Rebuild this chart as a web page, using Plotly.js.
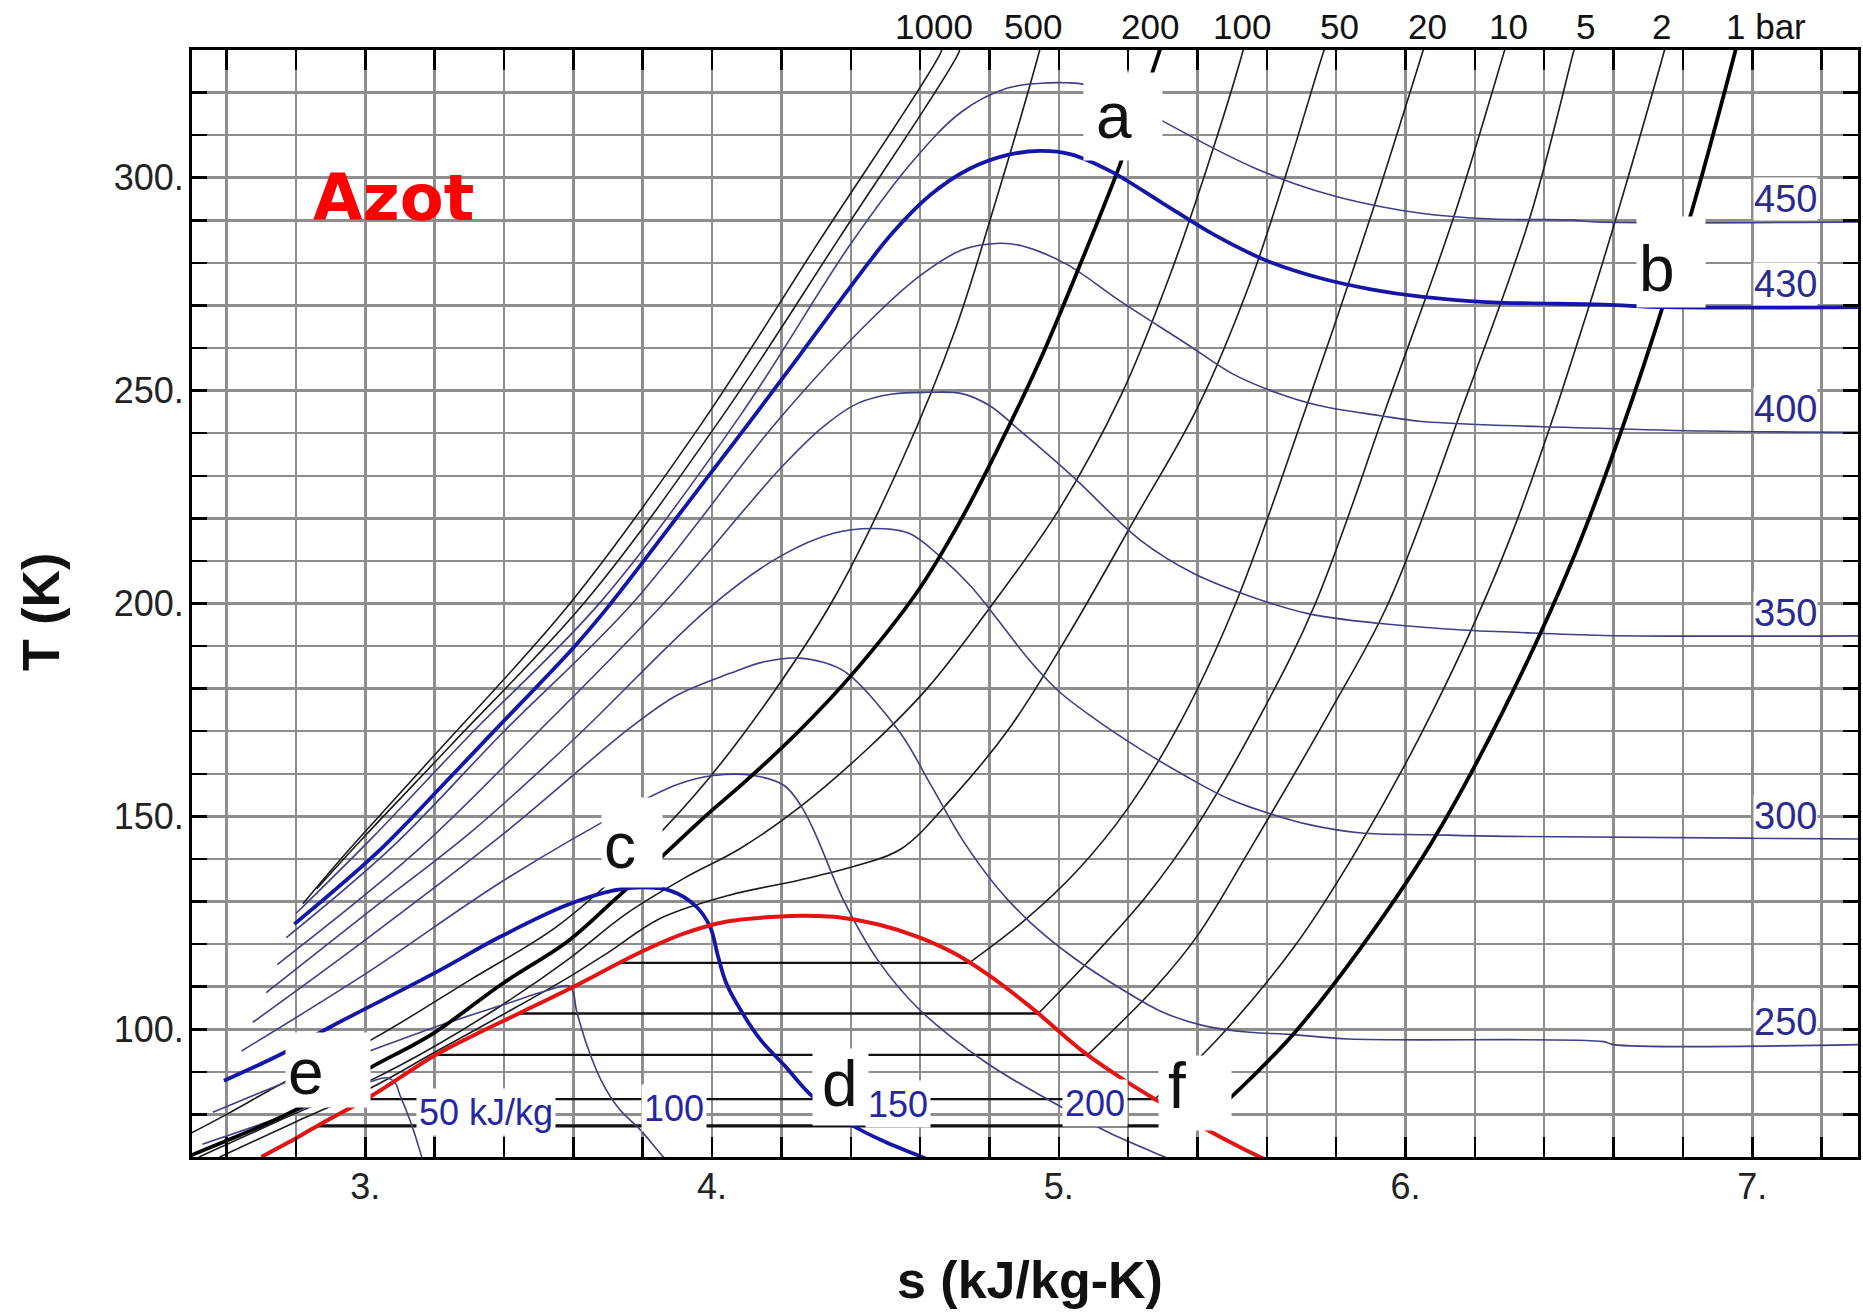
<!DOCTYPE html>
<html><head><meta charset="utf-8">
<script src="https://cdn.plot.ly/plotly-3.0.1.min.js"></script>
<style>html,body{margin:0;padding:0;background:#fff}#chart{width:1863px;height:1312px}</style>
</head><body><div id="chart"></div>
<script>
// ---------------- DATA (s in kJ/kg-K, T in K) ----------------
const satDome = [[2.70,70.0],[2.78,73.5],[2.861,77.3],[3.015,84.2],[3.195,93.6],[3.32,98.9],[3.45,104.0],[3.586,109.4],[3.70,114.2],[3.786,117.8],[3.92,122.5],[4.043,125.3],[4.197,126.5],[4.30,126.6],[4.365,126.3],[4.48,124.6],[4.597,121.6],[4.70,117.8],[4.80,112.6],[4.919,105.2],[5.074,94.5],[5.19,88.0],[5.283,83.3],[5.408,77.3],[5.53,72.0],[5.62,68.5]];

// two-phase plateaus (1, 2, 5, 10, 20 bar)
const plateauT      = [77.3, 83.6, 94.0, 103.7, 115.6];
const plateauLeftS  = [2.861, 3.00, 3.205, 3.44, 3.735];
const plateauRightS = [5.408, 5.277, 5.083, 4.941, 4.742];

// isobars
const p1Vapor  = [[5.408,77.3],[5.55,88.2],[5.68,99.2],[5.87,119.0],[6.075,143.8],[6.28,174.5],[6.481,210.1],[6.65,247.0],[6.82,290.6],[6.951,329.7],[6.955,331]];
const p2Vapor  = [[5.277,83.6],[5.45,97.0],[5.68,119.5],[5.86,142.2],[6.08,175],[6.30,215],[6.54,272.6],[6.746,329.7],[6.75,331]];
const p5Vapor  = [[5.083,94.0],[5.28,110],[5.40,122],[5.551,142.2],[5.785,175],[5.95,200],[6.171,247.6],[6.36,291],[6.485,329.7],[6.49,331]];
const p10Vapor = [[4.941,103.7],[5.08,115.5],[5.25,131],[5.40,148],[5.59,175],[5.74,200],[5.951,247.6],[6.14,291],[6.285,329.7],[6.29,331]];
const p20Vapor = [[4.742,115.6],[4.90,125.5],[5.05,137],[5.20,152],[5.35,172],[5.51,200],[5.72,247.6],[5.90,291],[6.05,329.7],[6.055,331]];
const p50  = [[2.58,70],[2.80,78.3],[3.015,86.2],[3.20,94.6],[3.40,103.6],[3.586,112.2],[3.70,118],[3.85,126],[4.05,131.5],[4.25,135],[4.42,138.5],[4.546,142.4],[4.70,155],[4.86,171],[5.03,193],[5.22,220],[5.40,246],[5.55,275],[5.66,302],[5.764,329.7],[5.77,331]];
const p100 = [[2.52,70],[2.75,78.5],[3.015,88],[3.20,96],[3.40,106],[3.586,116.5],[3.75,127],[3.92,135.5],[4.08,142.4],[4.25,152],[4.45,166],[4.62,180],[4.81,200],[5.00,222],[5.18,249],[5.32,277],[5.43,303],[5.531,329.7],[5.535,331]];
const p200 = [[2.47,69.5],[2.611,74.2],[2.765,79.7],[2.89,85],[3.015,91],[3.195,99],[3.395,110.7],[3.586,120.8],[3.72,130.5],[3.852,140.3],[3.98,150],[4.10,158.5],[4.25,170],[4.40,183],[4.594,203],[4.72,220],[4.828,237],[4.945,257],[5.061,279.5],[5.177,303.2],[5.29,329.7],[5.295,331]];
const p500 = [[2.40,71.5],[2.60,80],[2.765,87.5],[3.014,97.4],[3.30,111.5],[3.55,124],[3.75,138],[3.95,155],[4.15,176],[4.35,201],[4.55,234],[4.70,264],[4.82,295],[4.944,329.7],[4.948,331]];
const pHighA = [[2.82,129.5],[2.94,141],[3.195,164],[3.59,200],[3.976,243],[4.30,284],[4.661,329.7],[4.663,331]];
const pHighB = [[2.86,133],[3.00,145.5],[3.25,167],[3.64,201],[4.03,244],[4.36,285],[4.713,329.7],[4.715,331]];

// isenthalps (kJ/kg)
const h450 = [[2.80,127.2],[3.02,145],[3.30,169],[3.68,200.5],[4.08,244],[4.40,284.5],[4.58,304],[4.72,315.5],[4.85,321],[4.95,322.2],[5.022,322.3],[5.074,321.9],[5.18,318.3],[5.30,313.3],[5.43,307.6],[5.556,302.6],[5.68,298.6],[5.80,295.6],[5.93,293.2],[6.05,291.6],[6.18,290.6],[6.30,290.2],[6.47,290.1],[6.55,289.6],[7.31,289.6]];
const h430 = [[2.795,124.7],[3.043,142.2],[3.233,158.2],[3.365,169.5],[3.602,189.8],[3.70,199.2],[3.987,229.7],[4.112,243],[4.25,258],[4.40,274.5],[4.52,287],[4.63,296],[4.74,302],[4.85,305.3],[4.945,306.3],[5.035,305.5],[5.15,301.5],[5.30,294],[5.45,286.5],[5.60,280.5],[5.75,276.5],[5.90,273.8],[6.05,272],[6.233,270.8],[6.571,270.2],[6.75,269.6],[7.31,269.6]];
const h400 = [[2.772,121.5],[3.08,143],[3.40,170],[3.77,200],[4.19,243],[4.45,266],[4.60,277],[4.72,283],[4.83,284.6],[4.893,284],[5.022,279.7],[5.177,271],[5.37,260.9],[5.50,254],[5.628,249.5],[5.75,246.5],[5.928,244.1],[6.04,242.8],[6.289,241.8],[6.458,241.4],[6.865,240.5],[7.31,240.2]];
const h350 = [[2.746,115.2],[3.15,142],[3.50,170],[3.86,200],[4.20,232],[4.32,241.5],[4.42,247],[4.52,249.2],[4.623,249.6],[4.72,249.3],[4.80,246.5],[4.888,240.6],[5.042,229.7],[5.235,214.9],[5.388,207.1],[5.555,201.6],[5.725,197.5],[5.928,195.3],[6.177,193.7],[6.30,193.3],[6.571,192.5],[7.31,192.4]];
const h300 = [[2.714,108.6],[3.00,127],[3.30,146],[3.60,168],[3.995,199.2],[4.195,211],[4.35,216.5],[4.465,217.6],[4.568,216.5],[4.658,211],[4.747,204],[4.824,196.2],[4.914,186.8],[5.004,179.1],[5.106,172.8],[5.235,165.8],[5.363,159.6],[5.491,154.1],[5.619,150.4],[5.725,148],[5.872,146.1],[6.064,145.7],[6.289,145.3],[7.31,144.7]];
const h250 = [[2.675,101.6],[3.00,121],[3.40,146],[3.767,171],[3.90,178.5],[4.052,183.6],[4.15,186.3],[4.243,187.2],[4.32,186.2],[4.388,183.7],[4.542,169.7],[4.63,157.5],[4.726,144],[4.82,133.5],[4.919,125],[5.048,116.5],[5.19,109],[5.30,104],[5.42,100.8],[5.55,99.3],[5.668,98.8],[5.838,97.7],[6.571,97.1],[6.6,96.4],[7.31,96.4]];
const h200 = [[2.643,94.9],[3.00,113],[3.40,135],[3.767,152.3],[3.90,157.5],[4.004,159.6],[4.12,159.6],[4.209,157.2],[4.26,152],[4.30,145.5],[4.378,130.5],[4.48,116],[4.597,104.7],[4.79,92.2],[4.984,82.8],[5.15,75.5],[5.30,70.2],[5.32,69.5]];
const h150 = [[2.592,87.9],[2.765,94.5],[2.9,100.6],[3.195,113],[3.386,121.6],[3.576,129],[3.71,132.5],[3.786,133.3],[3.881,132.5],[3.957,128.6],[3.995,123.9],[4.017,117.2],[4.04,111],[4.081,104.7],[4.14,97.5],[4.21,91.4],[4.287,84.4],[4.39,78.1],[4.50,73.5],[4.597,70.3],[4.62,69.5]];
const h100 = [[2.56,80.5],[2.80,88.5],[3.00,94.5],[3.20,100.5],[3.40,105.8],[3.52,109],[3.59,110],[3.61,104],[3.64,96],[3.68,88],[3.73,81.5],[3.795,76.2],[3.86,70],[3.87,69.3]];
const h50  = [[2.53,73],[2.75,79.2],[2.95,85.5],[3.06,88.6],[3.085,87.5],[3.10,84.5],[3.12,80.5],[3.14,76],[3.162,70.2],[3.165,69.5]];

// tick labels
const xTickValues = [3, 4, 5, 6, 7];
const xTickLabels = ['3.', '4.', '5.', '6.', '7.'];
const yTickValues = [100, 150, 200, 250, 300];
const yTickLabels = ['100.', '150.', '200.', '250.', '300.'];

// label texts
const pressureLabels = ['1000', '500', '200', '100', '50', '20', '10', '5', '2', '1 bar'];
const enthalpyLabels = ['450', '430', '400', '350', '300', '250'];
const bottomEnthalpyLabels = ['50 kJ/kg', '100', '150', '200'];
const pointLabels = ['a', 'b', 'c', 'd', 'e', 'f'];

// ---------------- PRESENTATION ----------------
const FONT = 'Liberation Sans, Arial, Helvetica, sans-serif';
const ISOBAR = '#1c1c1c', ISENTH = '#3f3f86', BLUE = '#1616a6', RED = '#e31414';

function tr(arr, color, width, shape) {
  return {type: 'scatter', mode: 'lines', x: arr.map(p => p[0]), y: arr.map(p => p[1]),
    line: {color: color, width: width, shape: shape || 'spline', smoothing: 1.0},
    hoverinfo: 'skip', showlegend: false};
}
const traces = [];
[p2Vapor, p5Vapor, p10Vapor, p20Vapor, p50, p100, p500, pHighA, pHighB].forEach(a => traces.push(tr(a, ISOBAR, 1.6)));
plateauT.forEach((t, i) => traces.push(tr([[plateauLeftS[i], t], [plateauRightS[i], t]], '#111', i === 0 ? 3.2 : 2.3, 'linear')));
[h450, h400, h350, h300, h250, h200, h100, h50].forEach(a => traces.push(tr(a, ISENTH, 1.6)));
traces.push(tr(p200, '#000', 3.8));
traces.push(tr(p1Vapor, '#000', 3.8));
traces.push(tr(h430, BLUE, 3.8));
traces.push(tr(h150, BLUE, 3.8));
traces.push(tr(satDome, RED, 4));

// grid / ticks
const xGrid = [], yGrid = [];
for (let i = 0; i <= 23; i++) xGrid.push(+(2.6 + 0.2 * i).toFixed(1));
for (let t = 80; t <= 320; t += 10) yGrid.push(t);
const xText = xGrid.map(v => { const k = xTickValues.indexOf(v); return k >= 0 ? xTickLabels[k] : ''; });
const yText = yGrid.map(v => { const k = yTickValues.indexOf(v); return k >= 0 ? yTickLabels[k] : ''; });

const ann = [];
// pressure labels on top
const pressureLabelS = [4.64, 4.925, 5.264, 5.528, 5.81, 6.063, 6.297, 6.52, 6.739, 6.937];
pressureLabels.forEach((t, i) => ann.push({text: t, xref: 'x', yref: 'paper', x: pressureLabelS[i], y: 1,
  yshift: 24, xshift: i === 9 ? -6 : 0, xanchor: i === 9 ? 'left' : 'center', yanchor: 'middle', showarrow: false,
  font: {family: FONT, size: 35, color: '#111'}}));
// isenthalp labels at right (sit on the plateau of each curve)
[h450, h430, h400, h350, h300, h250].forEach((a, i) => ann.push({text: enthalpyLabels[i], x: 7.096, y: a[a.length - 1][1],
  yshift: 1, xanchor: 'center', yanchor: 'bottom', showarrow: false, bgcolor: '#fff', borderpad: 0,
  font: {family: FONT, size: 38, color: '#2b2b8f'}}));
// isenthalp labels at bottom
const bottomPos = [[3.347, 80.5], [3.89, 81.4], [4.536, 82.4], [5.105, 82.8]];
bottomEnthalpyLabels.forEach((t, i) => ann.push({text: t, x: bottomPos[i][0], y: bottomPos[i][1], xanchor: 'center',
  yanchor: 'middle', showarrow: false, bgcolor: '#fff', borderpad: 2, height: 42,
  font: {family: FONT, size: 36, color: '#2626a3'}}));
// point letters: white box + letter
const pointBoxes = [
  {s: 5.185, T: 314.4, w: 78, h: 87, dx: -9, dy: 0},
  {s: 6.765, T: 280.1, w: 68, h: 90, dx: -14, dy: -7},
  {s: 3.768, T: 143.8, w: 60, h: 89, dx: -12, dy: -3},
  {s: 4.369, T: 86.5, w: 55, h: 76, dx: 0, dy: 3},
  {s: 2.892, T: 90.5, w: 84, h: 74, dx: -22, dy: -2},
  {s: 5.394, T: 85.1, w: 72, h: 74, dx: -18, dy: 7}];
pointLabels.forEach((t, i) => { const b = pointBoxes[i];
  ann.push({text: ' ', x: b.s, y: b.T, xanchor: 'center', yanchor: 'middle', width: b.w, height: b.h,
    showarrow: false, bgcolor: '#fff', borderpad: 0, font: {family: FONT, size: 10, color: '#fff'}});
  ann.push({text: t, x: b.s, y: b.T, xshift: b.dx, yshift: b.dy, xanchor: 'center', yanchor: 'middle',
    showarrow: false, font: {family: FONT, size: 64, color: '#111'}}); });
// title-like texts
ann.push({text: '<b>Azot</b>', xref: 'paper', yref: 'paper', x: 0.1212, y: 0.8659, xanchor: 'center', yanchor: 'middle',
  showarrow: false, font: {family: 'DejaVu Sans, Verdana, sans-serif', size: 64, color: '#ff0000'}});
ann.push({text: '<b>T (K)</b>', xref: 'paper', yref: 'paper', x: 0, y: 0.4923, xshift: -151, xanchor: 'center', yanchor: 'middle',
  textangle: -90, showarrow: false, font: {family: FONT, size: 52, color: '#111'}});
ann.push({text: '<b>s (kJ/kg-K)</b>', xref: 'paper', yref: 'paper', x: 0.503, y: 0, yshift: -123, xanchor: 'center', yanchor: 'middle',
  showarrow: false, font: {family: FONT, size: 52, color: '#111'}});

const axisCommon = {ticks: 'inside', tickwidth: 2.5, tickcolor: '#000', showline: true, linecolor: '#000', linewidth: 3,
  mirror: 'ticks', showgrid: true, gridcolor: '#8e8e8e', gridwidth: 2.5, zeroline: false, fixedrange: true,
  tickfont: {family: FONT, size: 36, color: '#222'}, tickmode: 'array'};
const layout = {
  width: 1863, height: 1312, margin: {l: 192, r: 5, t: 50, b: 155},
  paper_bgcolor: '#fff', plot_bgcolor: '#fff', showlegend: false,
  xaxis: Object.assign({}, axisCommon, {range: [2.5, 7.305], tickvals: xGrid, ticktext: xText, ticklen: 20, ticklabelstandoff: -4}),
  yaxis: Object.assign({}, axisCommon, {range: [70, 330], tickvals: yGrid, ticktext: yText, ticklen: 15, ticklabelstandoff: -2}),
  annotations: ann
};
Plotly.newPlot('chart', traces, layout, {staticPlot: true, displayModeBar: false});
</script></body></html>
